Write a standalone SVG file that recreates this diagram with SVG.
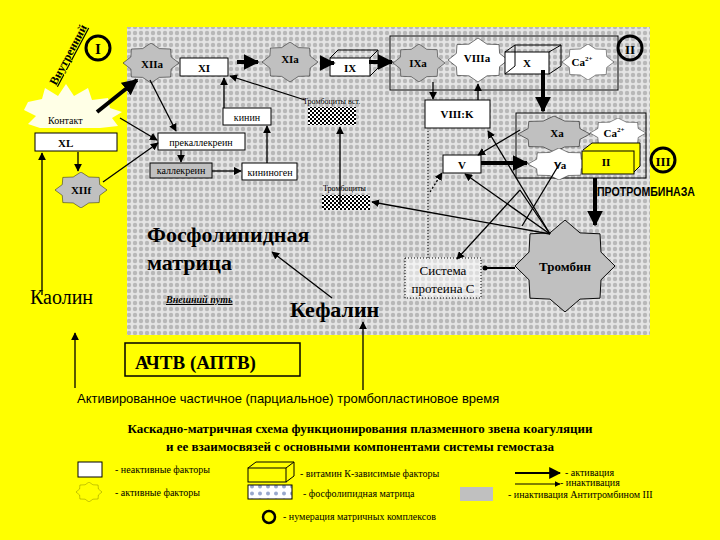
<svg xmlns="http://www.w3.org/2000/svg" width="720" height="540" viewBox="0 0 720 540">
<defs>
<pattern id="dots" width="6" height="6" patternUnits="userSpaceOnUse"><rect width="6" height="6" fill="#e4e4e4"/><circle cx="3" cy="3" r="2.2" fill="#b8b8b8"/></pattern>
<pattern id="chk" width="4" height="4" patternUnits="userSpaceOnUse"><rect width="4" height="4" fill="#fff"/><rect width="2" height="2" fill="#000"/><rect x="2" y="2" width="2" height="2" fill="#000"/></pattern>
<pattern id="ldots" width="8" height="7" patternUnits="userSpaceOnUse"><rect width="8" height="7" fill="#fff"/><circle cx="4" cy="3.5" r="2" fill="#99a8cc"/></pattern>
<marker id="a" viewBox="0 0 10 10" refX="9" refY="5" markerWidth="6" markerHeight="6" orient="auto"><path d="M0,0L10,5L0,10z" fill="#000"/></marker>
<marker id="ab" viewBox="0 0 10 10" refX="9" refY="5" markerWidth="4" markerHeight="4" orient="auto"><path d="M0,0L10,5L0,10z" fill="#000"/></marker>
<symbol id="star" viewBox="-50 -50 100 100" preserveAspectRatio="none"><path d="M0,-50L15,-36L35,-35L36,-15L50,0L36,15L35,35L15,36L0,50L-15,36L-35,35L-36,15L-50,0L-36,-15L-35,-35L-15,-36z"/></symbol>
</defs>
<style>
text{font-family:"Liberation Serif",serif;fill:#000}
.sans{font-family:"Liberation Sans",sans-serif}
.b{fill:#fff;stroke:#000;stroke-width:1}
.l{stroke:#000;stroke-width:1.3;fill:none;marker-end:url(#a)}
.n{stroke:#000;stroke-width:1.3;fill:none}
.t{stroke:#000;stroke-width:4;fill:none;marker-end:url(#ab)}
.s{font-size:10px}
.m{font-size:11px;font-weight:bold}
.c{fill:none;stroke:#000;stroke-width:3}
.gs{fill:#c0c0c0;stroke:#000}
.ws{fill:#fff;stroke:#000}
</style>
<rect width="720" height="540" fill="#ffff00"/>
<rect x="127" y="27" width="523" height="308" fill="url(#dots)"/>

<g id="vnutr"><text transform="translate(56,86) rotate(-62)" font-size="12" font-weight="bold" text-decoration="underline">Внутренний</text></g>
<g id="c1"><circle cx="98" cy="48" r="12" class="c"/><text x="98" y="54" font-size="15" font-weight="bold" text-anchor="middle">I</text></g>
<g id="contact"><path d="M28,102L42,99L45,88L58,96L66,84L74,96L88,88L92,100L108,98L110,108L122,112L112,118L118,126L100,128L40,128L28,124L36,116L24,110z" fill="#fff" opacity="0.9"/><text x="48" y="124" class="s">Контакт</text></g>
<g id="XL"><rect x="35" y="133" width="82" height="18" class="b"/><text x="58" y="147" class="m">XL</text></g>
<g id="XIIf"><use href="#star" x="55" y="172" width="52" height="36" class="gs"/><text x="81" y="194" class="m" text-anchor="middle">XIIf</text></g>
<g id="XIIa"><use href="#star" x="123" y="43" width="56" height="40" class="gs"/><text x="152" y="68" class="m" text-anchor="middle">XIIa</text></g>
<g id="XI"><rect x="180" y="58" width="48" height="18" class="b"/><text x="204" y="72" class="m" text-anchor="middle">XI</text></g>
<g id="XIa"><use href="#star" x="262" y="42" width="56" height="40" class="gs"/><text x="290" y="63" class="m" text-anchor="middle">XIa</text></g>
<g id="IX"><rect x="330" y="58" width="40" height="18" class="b"/><path d="M330,58L338,50L378,50L370,58M370,76L378,68L378,50" fill="none" stroke="#000"/><text x="350" y="72" class="m" text-anchor="middle">IX</text></g>
<g id="box2"><rect x="390" y="36" width="228" height="54" fill="none" stroke="#000"/>
<use href="#star" x="393" y="44" width="52" height="38" class="gs"/><text x="418" y="67" class="m" text-anchor="middle">IXa</text>
<use href="#star" x="448" y="38" width="60" height="44" class="ws"/><text x="477" y="62" class="m" text-anchor="middle">VIIIa</text>
<rect x="505" y="52" width="44" height="22" class="b"/><path d="M505,52L515,45L561,45L549,52M549,74L561,66L561,45M505,74L515,66L515,45" fill="none" stroke="#000"/><text x="527" y="67" class="m" text-anchor="middle">X</text>
<use href="#star" x="562" y="44" width="52" height="36" class="ws"/><text x="582" y="66" class="m" text-anchor="middle">Ca<tspan font-size="7" dy="-5">2+</tspan></text></g>
<g id="c2"><circle cx="630" cy="48" r="12" class="c"/><text x="630" y="54" font-size="13" font-weight="bold" text-anchor="middle">II</text></g>
<g id="VIIIK"><rect x="425" y="100" width="65" height="28" class="b"/><text x="457" y="118" class="m" text-anchor="middle">VIII:K</text></g>
<g id="box3"><rect x="516" y="113" width="130" height="65" fill="none" stroke="#000"/>
<use href="#star" x="590" y="118" width="56" height="30" class="ws"/><text x="614" y="137" class="m" text-anchor="middle">Ca<tspan font-size="7" dy="-5">2+</tspan></text>
<use href="#star" x="518" y="116" width="72" height="36" class="gs"/><text x="557" y="137" class="m" text-anchor="middle">Xa</text>
<use href="#star" x="528" y="148" width="62" height="32" class="ws"/><text x="560" y="169" class="m" text-anchor="middle">Va</text>
<path d="M583,150L592,143L640,143L640,166L634,172" fill="#ffff00" stroke="#000"/>
<rect x="582" y="151" width="52" height="23" fill="#ffff00" stroke="#000"/><text x="606" y="166" class="m" text-anchor="middle">II</text></g>
<g id="c3"><circle cx="663" cy="160" r="12" class="c"/><text x="663" y="166" font-size="13" font-weight="bold" text-anchor="middle">III</text></g>
<g id="protromb"><text x="597" y="196" class="sans" font-size="13" font-weight="bold" textLength="98" lengthAdjust="spacingAndGlyphs">ПРОТРОМБИНАЗА</text></g>
<g id="V"><rect x="443" y="155" width="38" height="18" class="b"/><text x="462" y="169" class="m" text-anchor="middle">V</text></g>
<g id="tromb1"><text x="303" y="104" font-size="8">Тромбоциты вст.</text><rect x="308" y="107" width="48" height="18" fill="url(#chk)"/></g>
<g id="kinin"><rect x="223" y="108" width="48" height="17" class="b"/><text x="247" y="121" class="s" text-anchor="middle">кинин</text></g>
<g id="prekall"><rect x="158" y="133" width="87" height="17" class="b"/><text x="201" y="146" class="s" text-anchor="middle">прекаллекреин</text></g>
<g id="kall"><rect x="150" y="163" width="62" height="15" fill="#c0c0c0" stroke="#000"/><text x="181" y="174" class="s" text-anchor="middle">каллекреин</text></g>
<g id="kininogen"><rect x="242" y="163" width="55" height="17" class="b"/><text x="270" y="176" class="s" text-anchor="middle">кининоген</text></g>
<g id="tromb2"><text x="323" y="191" font-size="8">Тромбоциты</text><rect x="322" y="195" width="48" height="15" fill="url(#chk)"/></g>
<g id="fosfo"><text x="147" y="242" font-size="22" font-weight="bold">Фосфолипидная</text><text x="147" y="270" font-size="22" font-weight="bold">матрица</text></g>
<g id="vnesh"><text x="166" y="303" font-size="10" font-weight="bold" font-style="italic" text-decoration="underline">Внешний путь</text></g>
<g id="kefalin"><text x="290" y="317" font-size="22" font-weight="bold">Кефалин</text></g>
<g id="kaolin"><text x="30" y="304" font-size="20">Каолин</text></g>
<g id="protC"><rect x="405" y="258" width="76" height="40" fill="#fff" fill-opacity="0.5" stroke="#000" stroke-dasharray="1,2"/><text x="443" y="275" font-size="13" text-anchor="middle">Система</text><text x="443" y="293" font-size="13" text-anchor="middle">протеина С</text></g>
<g id="trombin"><use href="#star" x="515" y="220" width="100" height="92" class="gs"/><text x="565" y="271" font-size="13" font-weight="bold" text-anchor="middle">Тромбин</text></g>
<g id="achtv"><rect x="125" y="343" width="175" height="33" fill="#ffff00" stroke="#000" stroke-width="1.5"/><text x="135" y="369" font-size="19" font-weight="bold">АЧТВ (АПТВ)</text></g>
<text x="77" y="403" font-size="13" class="sans">Активированное частичное (парциальное) тромбопластиновое время</text>
<text x="360" y="433" font-size="13" font-weight="bold" text-anchor="middle">Каскадно-матричная схема функционирования плазменного звена коагуляции</text>
<text x="360" y="451" font-size="13" font-weight="bold" text-anchor="middle">и ее взаимосвязей с основными компонентами системы гемостаза</text>

<g id="connectors">
<path class="t" d="M97,112L137,80"/>
<path class="l" d="M78,152L78,171"/>
<path class="l" d="M103,182L158,143"/>
<path class="l" d="M120,118L157,140"/>
<path class="l" d="M150,80L176,131"/>
<path class="l" d="M181,150L181,162"/>
<path class="l" d="M212,171L241,171"/>
<path class="l" d="M267,163L267,126"/>
<path class="l" d="M224,108L224,78"/>
<path class="l" d="M305,100L230,76"/>
<path class="l" d="M42,295L42,153"/>
<path class="t" d="M237,62L258,62"/>
<path class="t" d="M320,63L334,63"/>
<path class="t" d="M369,62L392,62"/>
<path class="l" d="M433,82L433,99"/>
<path class="l" d="M478,100L478,84"/>
<path class="t" d="M543,70L543,111"/>
<path class="l" d="M520,130L478,155"/>
<path class="t" d="M481,163L527,163"/>
<path class="l" d="M340,205L340,127"/>
<path d="M428,258L428,130" stroke="#000" stroke-dasharray="1,2" fill="none"/>
<path class="l" d="M430,192L442,173" stroke-dasharray="2,2"/>
<path class="l" d="M550,234L488,131"/>
<path class="l" d="M550,234L465,174"/>
<path class="l" d="M550,234L372,202"/>
<path class="l" d="M520,190L457,259"/>
<path class="n" d="M550,234L520,190"/>
<path class="n" d="M522,226L560,163"/>
<path d="M485,268L515,268" stroke="#000" stroke-width="2"/><circle cx="485" cy="268" r="2.5"/>
<path class="t" d="M595,178L595,225" stroke-width="7"/>
<path class="l" d="M332,298L272,252"/>
<path class="l" d="M75,388L75,333"/>
<path class="l" d="M363,390L363,322"/>
</g>

<g id="legend">
<rect x="78" y="462" width="24" height="15" class="b"/><text x="115" y="473" font-size="10">- неактивные факторы</text>
<use href="#star" x="76" y="482" width="26" height="20" style="fill:#ffff00;stroke:#000"/><text x="115" y="496" font-size="10">- активные факторы</text>
<rect x="248" y="468" width="38" height="14" fill="none" stroke="#000"/><path d="M248,468L256,462L294,462L286,468M286,482L294,476L294,462" fill="none" stroke="#000"/><text x="300" y="477" font-size="10">- витамин К-зависимые факторы</text>
<rect x="248" y="485" width="44" height="14" fill="url(#ldots)" stroke="#000"/><text x="303" y="497" font-size="10">- фосфолипидная матрица</text>
<path d="M515,473L560,473" stroke="#000" stroke-width="2" marker-end="url(#a)"/><text x="565" y="476" font-size="10">- активация</text>
<path d="M515,484L560,484" stroke="#000" stroke-width="1" marker-end="url(#a)"/><text x="560" y="486" font-size="10">- инактивация</text>
<rect x="460" y="487" width="33" height="14" fill="#c0c0c0"/><text x="508" y="498" font-size="10">- инактивация Антитромбином III</text>
<circle cx="269" cy="517" r="6" fill="none" stroke="#000" stroke-width="2.5"/><text x="283" y="520" font-size="10">- нумерация матричных комплексов</text>
</g>
</svg>
